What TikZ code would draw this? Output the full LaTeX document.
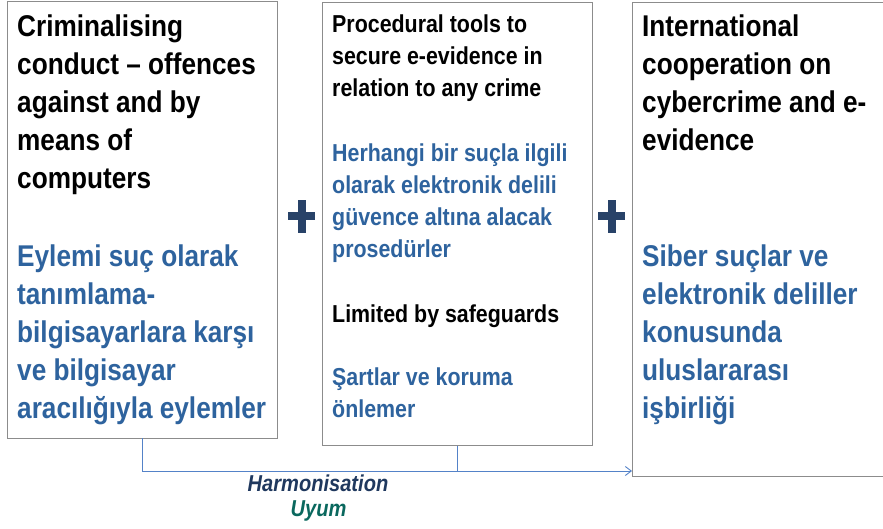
\documentclass[tikz,border=0pt]{standalone}
\usepackage{fontspec}
\setmainfont{Liberation Sans}[FakeStretch=0.873]
\usetikzlibrary{arrows.meta}
\definecolor{boxgrey}{RGB}{140,140,140}
\definecolor{trblue}{RGB}{46,99,158}
\definecolor{plusnavy}{RGB}{40,66,104}
\definecolor{linkblue}{RGB}{84,130,200}
\definecolor{harmnavy}{RGB}{31,56,94}
\definecolor{uyumteal}{RGB}{10,104,94}
\tikzset{
  panel/.style={draw=boxgrey, line width=0.9pt, fill=white, anchor=north west, inner sep=0pt},
  bigtext/.style={anchor=base west, inner sep=0pt, text width=258pt, align=flush left, font=\fontsize{30}{38}\selectfont\bfseries},
  smalltext/.style={anchor=base west, inner sep=0pt, text width=255pt, align=flush left, font=\fontsize{24.5}{32}\selectfont\bfseries},
  link/.style={draw=linkblue, line width=0.9pt},
  joinplus/.pic={
    \fill[plusnavy] (-13.5,-4) rectangle (13.5,4);
    \fill[plusnavy] (-4,-16.5) rectangle (4,16.5);
  }
}
\begin{document}
\begin{tikzpicture}[x=1pt, y=-1pt]
  %%%%% START %%%%%
  \useasboundingbox (0,0) rectangle (883,529);

  % the three panels
  \node[panel, minimum width=270, minimum height=436] (crim) at (7,1.5) {};
  \node[panel, minimum width=270, minimum height=443] (proc) at (322,2) {};
  \node[panel, minimum width=254, minimum height=474] (coop) at (632,2) {};

  % criminalising conduct
  \node[bigtext] (crimen) at (17,37) {Criminalising\\conduct -- offences\\against and by\\means of\\computers};
  \node[bigtext, text=trblue] (crimtr) at (17,267) {Eylemi suç olarak\\tanımlama-\\bilgisayarlara karşı\\ve bilgisayar\\aracılığıyla eylemler};

  % procedural tools
  \node[smalltext] (procen) at (332,33) {Procedural tools to\\secure e-evidence in\\relation to any crime};
  \node[smalltext, text=trblue] (proctr) at (332,162) {Herhangi bir suçla ilgili\\olarak elektronik delili\\güvence altına alacak\\prosedürler};
  \node[smalltext] (safeen) at (332,322) {Limited by safeguards};
  \node[smalltext, text=trblue] (safetr) at (332,385) {Şartlar ve koruma\\önlemer};

  % international cooperation
  \node[bigtext, text width=235pt] (coopen) at (642,37) {International\\cooperation on\\cybercrime and e-\\evidence};
  \node[bigtext, text width=235pt, text=trblue] (cooptr) at (642,267) {Siber suçlar ve\\elektronik deliller\\konusunda\\uluslararası\\işbirliği};

  % plus signs
  \pic at (301.5,216.5) {joinplus};
  \pic at (611.5,216.5) {joinplus};

  % harmonisation connector
  \coordinate (join) at (proc.south |- 0,471);
  \draw[link] (crim.south) |- (join);
  \draw[link] (proc.south) -- (join);
  \draw[link, -{Straight Barb[length=6pt, width=9pt]}] (join) -- (join -| coop.west);

  \node[anchor=base, inner sep=0pt, text=harmnavy, font=\fontsize{23}{23}\selectfont\bfseries\itshape] (harm) at (318,491.5) {Harmonisation};
  \node[anchor=base, inner sep=0pt, text=uyumteal, font=\fontsize{23}{23}\selectfont\bfseries\itshape] (uyum) at (318.5,516.5) {Uyum};
  %%%%% END %%%%%
\end{tikzpicture}
\end{document}
